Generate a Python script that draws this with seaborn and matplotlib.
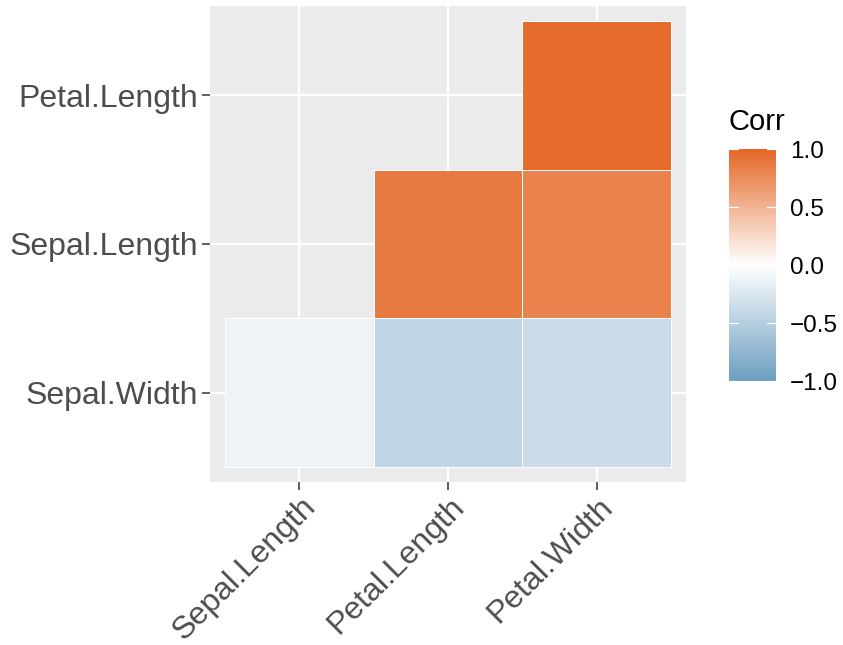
import numpy as np
import pandas as pd
import matplotlib
matplotlib.use("Agg")
import matplotlib.pyplot as plt
import matplotlib.transforms as mtransforms
from matplotlib.colors import LinearSegmentedColormap
import seaborn as sns

# Correlations of the iris measurements (lower triangle, hierarchical order)
x_vars = ["Sepal.Length", "Petal.Length", "Petal.Width"]
y_vars = ["Petal.Length", "Sepal.Length", "Sepal.Width"]  # top to bottom
corr_petal_length = [np.nan, np.nan, 0.963]
corr_sepal_length = [np.nan, 0.872, 0.818]
corr_sepal_width = [-0.118, -0.428, -0.366]
legend_breaks = [-1.0, -0.5, 0.0, 0.5, 1.0]

corr = pd.DataFrame([corr_petal_length, corr_sepal_length, corr_sepal_width],
                    index=y_vars, columns=x_vars)

sns.set_theme(style="white")
plt.rcParams["font.family"] = ["Liberation Sans", "DejaVu Sans"]

cmap = LinearSegmentedColormap.from_list("corr", ["#6D9EC1", "#FFFFFF", "#E46726"])

fig = plt.figure(figsize=(8.43, 6.45), dpi=100)
ax = fig.add_axes([210 / 843, 1 - 482 / 645, 476 / 843, 476 / 645])
cax = fig.add_axes([729 / 843, 1 - 381 / 645, 47 / 843, 232 / 645])

ax.set_facecolor("#EBEBEB")
ax.set_axisbelow(True)

mask = corr.isna()
sns.heatmap(corr, ax=ax, cmap=cmap, vmin=-1, vmax=1, mask=mask,
            linewidths=0.6, linecolor="white", cbar_ax=cax, square=False)

# keep white tile borders only on the drawn (lower-triangle) cells
mesh = ax.collections[0]
edge = np.array([[1, 1, 1, 0 if m else 1] for m in mask.values.ravel()], dtype=float)
mesh.set_edgecolors(edge)
mesh.set_zorder(2)

ax.set_xlim(-0.1, 3.1)
ax.set_ylim(3.1, -0.1)
ax.set_xticks([0.5, 1.5, 2.5])
ax.set_yticks([0.5, 1.5, 2.5])
ax.set_xlabel("")
ax.set_ylabel("")
for s in ax.spines.values():
    s.set_visible(False)
ax.grid(True, color="white", linewidth=1.6)

ax.tick_params(axis="both", which="major", length=5.5, width=1.1, color="#333333",
               labelcolor="#4D4D4D", labelsize=23, bottom=True, left=True,
               direction="out", pad=3)
ax.set_yticklabels(y_vars, rotation=0, va="center_baseline")
ax.set_xticklabels(x_vars, rotation=45, ha="right", va="top", rotation_mode="anchor")
offset = mtransforms.ScaledTranslation(1 / 72, 1.5 / 72, fig.dpi_scale_trans)
for lbl in ax.get_xticklabels():
    lbl.set_transform(lbl.get_transform() + offset)

# Colour bar styling
cbar = mesh.colorbar
cbar.outline.set_visible(False)
cbar.set_ticks(legend_breaks)
cbar.set_ticklabels(["\u22121.0", "\u22120.5", "0.0", "0.5", "1.0"])
cax.tick_params(length=0, labelsize=17.5, labelcolor="black", pad=10)
trans = mtransforms.blended_transform_factory(cax.transAxes, cax.transData)
for b in legend_breaks:
    cax.plot([0, 0.2], [b, b], color="white", lw=0.9, transform=trans, clip_on=False)
    cax.plot([0.8, 1.0], [b, b], color="white", lw=0.9, transform=trans, clip_on=False)
fig.text(729 / 843, 1 - 122 / 645, "Corr", fontsize=21, color="black",
         ha="left", va="center")

fig.savefig("out.png", dpi=100)
